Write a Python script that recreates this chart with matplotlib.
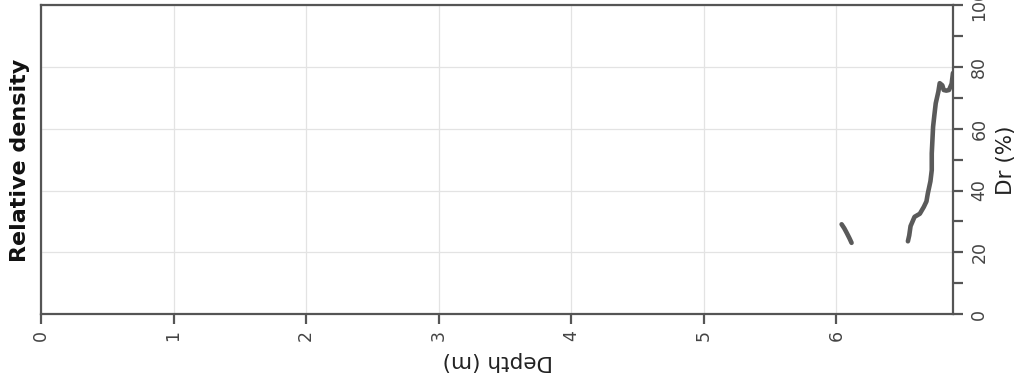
import numpy as np
import matplotlib
matplotlib.use("Agg")
import matplotlib.pyplot as plt
from matplotlib.ticker import MultipleLocator

# Datos (profundidad en m, Dr en %)
depth_1 = [6.04, 6.06, 6.08, 6.10, 6.115]
dr_1 = [29.1, 27.8, 26.2, 24.5, 23.1]

depth_2 = [6.54, 6.55, 6.56, 6.59, 6.63, 6.66, 6.68, 6.69, 6.71, 6.72, 6.72,
           6.73, 6.74, 6.75, 6.77, 6.78, 6.80, 6.81, 6.83, 6.85, 6.87, 6.88]
dr_2 = [23.6, 25.5, 28.5, 31.5, 32.5, 34.7, 36.5, 39.0, 43.0, 46.6, 52.0,
        60.6, 64.5, 68.2, 72.0, 74.7, 74.0, 72.5, 72.3, 72.5, 74.5, 78.0]

xticks = [0, 1, 2, 3, 4, 5, 6]
yticks = [0, 20, 40, 60, 80, 100]

fig = plt.figure(figsize=(10.19, 3.79), dpi=100)
ax = fig.add_axes([0.0402, 0.1707, 0.895, 0.8163])

ax.plot(depth_1, dr_1, color="#5a5a5a", lw=3.3, solid_capstyle="round")
ax.plot(depth_2, dr_2, color="#5a5a5a", lw=3.3, solid_capstyle="round")

ax.set_xlim(0, 6.88)
ax.set_ylim(0, 100)
ax.set_xticks(xticks)
ax.set_yticks(yticks)
ax.yaxis.set_minor_locator(MultipleLocator(10))
ax.yaxis.tick_right()

ax.grid(True, color="#e3e3e3", lw=0.9)
ax.set_axisbelow(True)

for s in ax.spines.values():
    s.set_color("#555555")
    s.set_linewidth(1.6)

ax.tick_params(axis="x", direction="out", length=7.5, width=1.6, color="#555555",
               labelrotation=90, labelsize=12.5, labelcolor="#444444", pad=4)
ax.tick_params(axis="y", which="both", direction="out", length=7.5, width=1.6,
               color="#555555", labelrotation=90, labelsize=12.5,
               labelcolor="#444444", pad=5)
for lab in ax.get_yticklabels():
    lab.set_va("center")

# Titulos y etiquetas (texto girado como en la figura original)
fig.text(0.4887, 0.0475, "Depth (m)", rotation=180, fontsize=15.5,
         color="#222222", ha="center", va="center")
fig.text(0.987, 0.578, "Dr (%)", rotation=90, fontsize=15.5,
         color="#222222", ha="center", va="center")
fig.text(0.0196, 0.578, "Relative density", rotation=90, fontsize=16,
         fontweight="bold", color="#111111", ha="center", va="center")

fig.savefig("out.png", dpi=100)
